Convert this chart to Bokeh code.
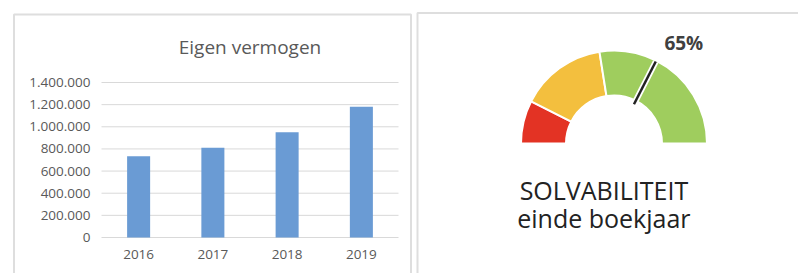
import math
from bokeh.plotting import figure
from bokeh.models import Range1d, FixedTicker, LinearAxis
from bokeh.core.properties import value
from bokeh.embed import file_html
from bokeh.resources import INLINE

# ---- data ----
years = ["2016", "2017", "2018", "2019"]
equity = [735000, 810000, 950000, 1180000]
y_ticks = [0, 200000, 400000, 600000, 800000, 1000000, 1200000, 1400000]
y_tick_labels = ["0", "200.000", "400.000", "600.000", "800.000", "1.000.000", "1.200.000", "1.400.000"]
chart_title = "Eigen vermogen"

gauge_bands = [15, 30, 20, 35]          # percent widths of the coloured bands
gauge_colors = ["#e33324", "#f3bf3e", "#9fcd5e", "#9fcd5e"]
solvency = 65                           # needle value (%)
solvency_label = "65%"
gauge_title = ["SOLVABILITEIT", "einde boekjaar"]

FONT = "Open Sans"
GREY = "#595959"
GRID = "#d9d9d9"
BORDER = "#dedede"

# ---- canvas (pixel coordinates, y up) ----
W, H = 798, 273
p = figure(width=W, height=H, x_range=Range1d(0, W), y_range=Range1d(0, H),
           x_axis_type=None, y_axis_type=None,
           output_backend="svg", toolbar_location=None,
           min_border=0, min_border_left=0, min_border_right=0,
           min_border_top=0, min_border_bottom=0)
p.outline_line_color = None
p.background_fill_color = "white"
p.border_fill_color = "white"

# layout of the bar-chart plot area (pixels)
PA_LEFT, PA_RIGHT = 101, 398
PA_BOTTOM, PA_TOP = 36, 191      # y-up pixel rows of 0 and top tick
cat_px = (PA_RIGHT - PA_LEFT) / len(years)
cat_start = -0.5 - PA_LEFT / cat_px
val_px = (PA_TOP - PA_BOTTOM) / y_ticks[-1]
val_start = -PA_BOTTOM / val_px
p.extra_x_ranges = {"cat": Range1d(cat_start, cat_start + W / cat_px)}
p.extra_y_ranges = {"val": Range1d(val_start, val_start + H / val_px)}

idx = list(range(len(years)))

# panel borders
p.line(x=[13.5, 13.5, 410.5, 410.5], y=[0, 259, 259, 0], line_color=BORDER, line_width=2)
p.line(x=[417, 417, W], y=[0, 260.5, 260.5], line_color=BORDER, line_width=2)

# gridlines
p.segment(x0=[-0.5] * len(y_ticks), x1=[len(years) - 0.5] * len(y_ticks), y0=y_ticks, y1=y_ticks,
          x_range_name="cat", y_range_name="val", line_color=GRID, line_width=1)

# bars
p.vbar(x=idx, top=equity, width=0.31, color="#6a9bd4", line_color=None,
       x_range_name="cat", y_range_name="val")

# axes
yax = LinearAxis(y_range_name="val", fixed_location=PA_LEFT, ticker=FixedTicker(ticks=y_ticks),
                 major_label_overrides={t: l for t, l in zip(y_ticks, y_tick_labels)})
xax = LinearAxis(x_range_name="cat", y_range_name="val", fixed_location=0,
                 ticker=FixedTicker(ticks=idx),
                 major_label_overrides={i: y for i, y in zip(idx, years)})
for ax in (xax, yax):
    ax.axis_line_color = None
    ax.major_tick_line_color = None
    ax.minor_tick_line_color = None
    ax.major_tick_out = 0
    ax.major_tick_in = 0
    ax.minor_tick_out = 0
    ax.major_label_text_font = FONT
    ax.major_label_text_font_size = "13.5px"
    ax.major_label_text_color = GREY
yax.major_label_standoff = 11
xax.major_label_standoff = 12
p.add_layout(yax, "left")
p.add_layout(xax, "below")

# chart title
p.text(x=[(len(years) - 1) / 2], y=[220.5 + 6], text=[chart_title], x_range_name="cat",
       text_font=value(FONT), text_font_size="19px", text_color=GREY,
       text_align="center", text_baseline="alphabetic")

# ---- gauge ----
cx, cy = 613.5, 130
r_in, r_out = 48, 93
cum = [0]
for b in gauge_bands:
    cum.append(cum[-1] + b)
starts = [math.pi * (1 - c / 100) for c in cum[1:]]
ends = [math.pi * (1 - c / 100) for c in cum[:-1]]
p.annular_wedge(x=[cx] * len(gauge_bands), y=[cy] * len(gauge_bands),
                inner_radius=r_in, outer_radius=r_out,
                start_angle=starts, end_angle=ends,
                fill_color=gauge_colors, line_color="white", line_width=2)

a = math.pi * (1 - solvency / 100)
x0, y0 = cx + 41 * math.cos(a), cy + 41 * math.sin(a)
x1, y1 = cx + 92 * math.cos(a), cy + 92 * math.sin(a)
p.segment(x0=[x0], y0=[y0], x1=[x1], y1=[y1], line_color="white", line_width=6)
p.segment(x0=[cx + 44 * math.cos(a)], y0=[cy + 44 * math.sin(a)], x1=[x1], y1=[y1],
          line_color="#222222", line_width=2.5)

p.text(x=[683.3], y=[224.7 + 6], text=[solvency_label], text_font=value(FONT), text_font_size="19px",
       text_font_style="bold", text_color="#404040", text_align="center", text_baseline="alphabetic")
p.text(x=[603.4, 603.4], y=[78 + 6, 49.7 + 6], text=gauge_title, text_font=value(FONT), text_font_size="25px",
       text_color="#222222", text_align="center", text_baseline="alphabetic")

open("out.html", "w").write(file_html(p, INLINE))
